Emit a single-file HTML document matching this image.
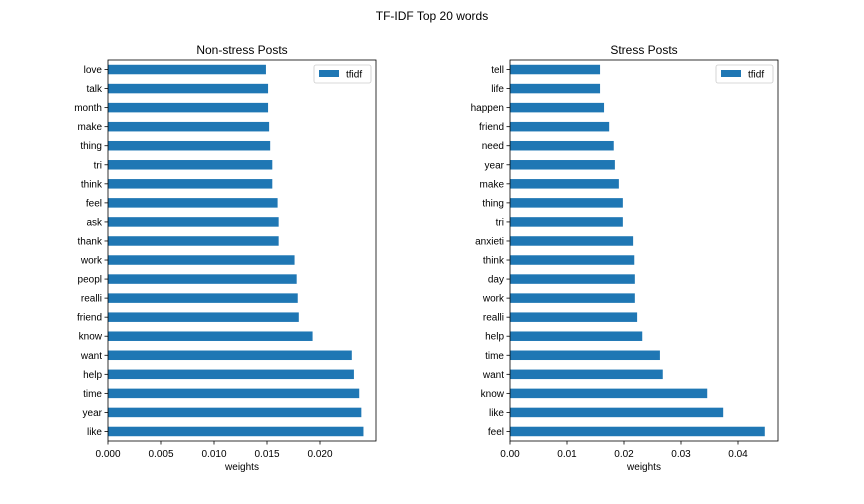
<!DOCTYPE html>
<html><head><meta charset="utf-8">
<style>
html,body{margin:0;padding:0;background:#fff;}
svg{display:block;font-family:"Liberation Sans","DejaVu Sans",sans-serif;}
</style></head>
<body>
<svg id="chart" width="864" height="504">
<text x="432" y="20" text-anchor="middle" font-size="12">TF-IDF Top 20 words</text>
</svg>
<script>
const leftWords = ["love","talk","month","make","thing","tri","think","feel","ask","thank","work","peopl","realli","friend","know","want","help","time","year","like"];
const leftValues = [0.0149,0.0151,0.0151,0.0152,0.0153,0.0155,0.0155,0.0160,0.0161,0.0161,0.0176,0.0178,0.0179,0.0180,0.0193,0.0230,0.0232,0.0237,0.0239,0.0241];
const leftTicks = [0,0.005,0.010,0.015,0.020];
const leftTickLabels = ["0.000","0.005","0.010","0.015","0.020"];
const rightWords = ["tell","life","happen","friend","need","year","make","thing","tri","anxieti","think","day","work","realli","help","time","want","know","like","feel"];
const rightValues = [0.0158,0.0158,0.0165,0.0174,0.0182,0.0184,0.0191,0.0198,0.0198,0.0216,0.0218,0.0219,0.0219,0.0223,0.0232,0.0263,0.0268,0.0346,0.0374,0.0447];
const rightTicks = [0,0.01,0.02,0.03,0.04];
const rightTickLabels = ["0.00","0.01","0.02","0.03","0.04"];

const NS="http://www.w3.org/2000/svg";
const svg=document.getElementById('chart');
function mk(tag,attrs,parent){const e=document.createElementNS(NS,tag);for(const k in attrs)e.setAttribute(k,attrs[k]);(parent||svg).appendChild(e);return e;}

function panel(prefix,title,words,values,ticks,labels,x0,x1,pxPerUnit){
  const top=60,bottom=441;
  const g=mk('g',{});
  
  
  const xs=v=>x0+v*pxPerUnit;
  const step=(bottom-top)/words.length;
  const ys=i=>top+step*(i+0.5);
  words.forEach((w,i)=>{
    const r=mk('rect',{x:x0,y:ys(i)-4.75,width:xs(values[i])-x0,height:9.5,fill:'#1f77b4'},g);
    
    
    mk('line',{x1:x0-3.5,x2:x0,y1:ys(i),y2:ys(i),stroke:'#000','stroke-width':0.8},g);
    const t=mk('text',{x:x0-6,y:ys(i)+3.5,'text-anchor':'end','font-size':10},g);
    t.textContent=w;
    
    
  });
  ticks.forEach((v,i)=>{
    mk('line',{x1:xs(v),x2:xs(v),y1:bottom,y2:bottom+3.5,stroke:'#000','stroke-width':0.8},g);
    const t=mk('text',{x:xs(v),y:bottom+16,'text-anchor':'middle','font-size':10},g);
    t.textContent=labels[i];
    
    
  });
  const fr=mk('rect',{x:x0,y:top,width:x1-x0,height:bottom-top,fill:'none',stroke:'#000','stroke-width':0.8},g);
  
  
  const tt=mk('text',{x:(x0+x1)/2,y:top-6,'text-anchor':'middle','font-size':12},g);
  tt.textContent=title;
  
  
  const xl=mk('text',{x:(x0+x1)/2,y:bottom+29,'text-anchor':'middle','font-size':10},g);
  xl.textContent='weights';
  
  
  const lg=mk('g',{},g);
  
  
  mk('rect',{x:x1-62,y:top+5,width:57,height:18,rx:2,fill:'#fff',stroke:'#ccc','stroke-width':0.8},lg);
  mk('rect',{x:x1-57,y:top+10,width:20,height:7,fill:'#1f77b4'},lg);
  const lt=mk('text',{x:x1-30,y:top+17.5,'font-size':10},lg);
  lt.textContent='tfidf';
}
panel('nonstress','Non-stress Posts',leftWords,leftValues,leftTicks,leftTickLabels,108,376,10600);
panel('stress','Stress Posts',rightWords,rightValues,rightTicks,rightTickLabels,510,778,5700);
</script>
</body></html>
